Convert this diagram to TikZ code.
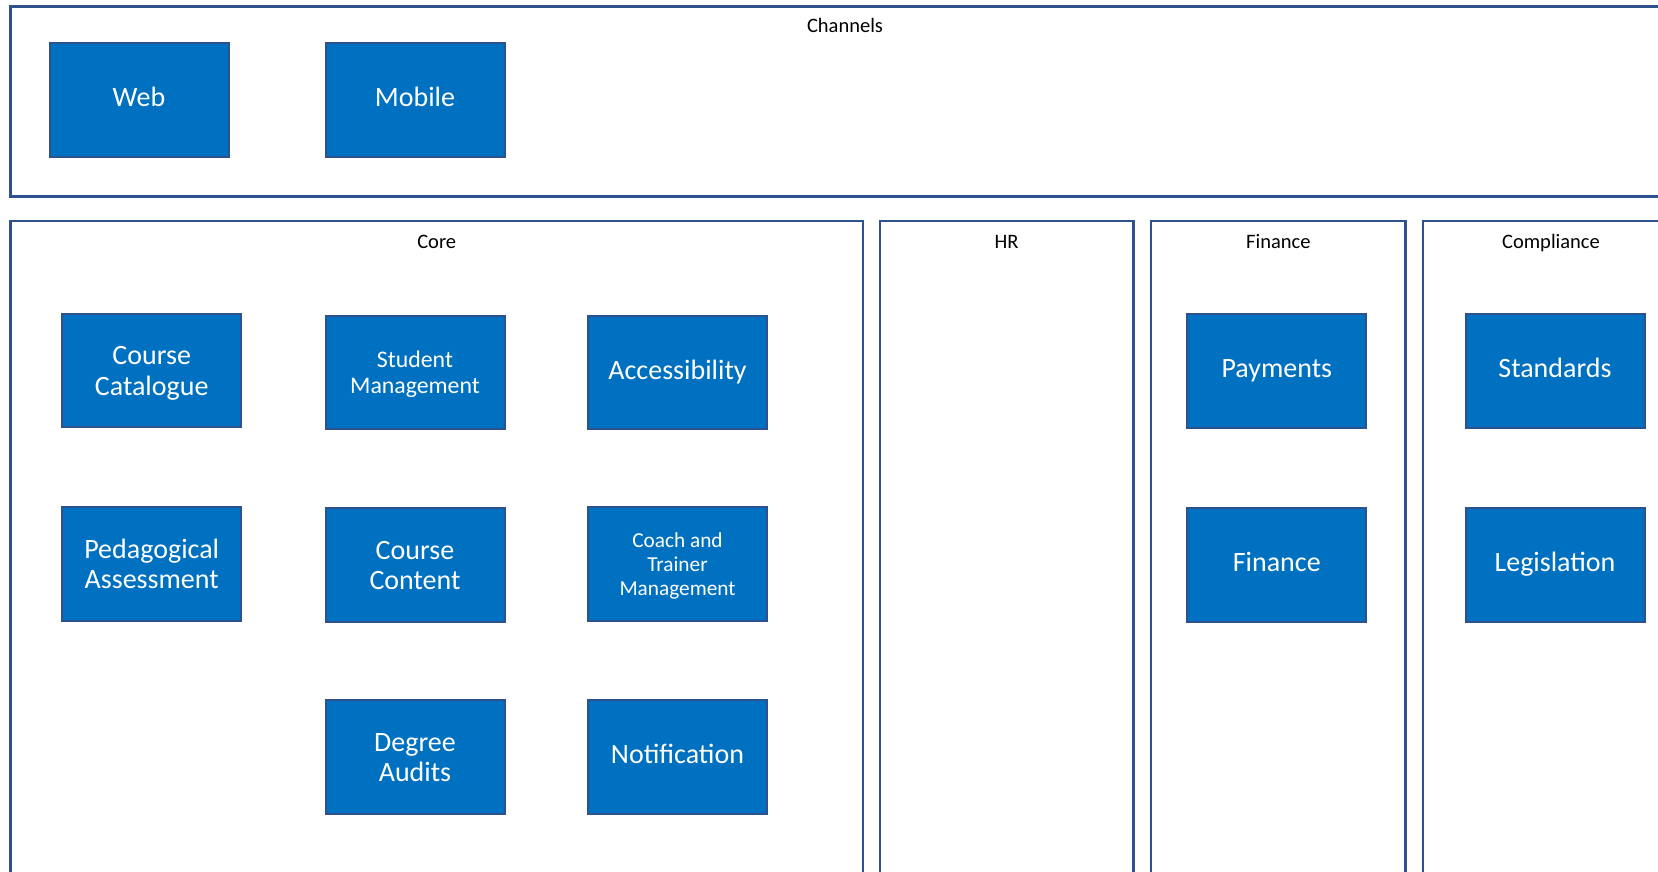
\documentclass[tikz,border=0pt]{standalone}
\usepackage{fontspec}
\setmainfont{Carlito}
\definecolor{boxblue}{HTML}{0070C0}
\definecolor{edgeblue}{HTML}{2F528F}
\newcommand{\ls}{\rule[-0.27em]{0pt}{1.02em}}
\newcommand{\lf}{\rule[-0.27em]{0pt}{1.22em}}
\tikzset{
  svc/.style={draw=edgeblue, line width=2pt, fill=boxblue, text=white,
    minimum width=179pt, minimum height=113.5pt, inner sep=0pt, align=center,
    font=\fontsize{28}{30.7}\selectfont},
  container/.style={draw=edgeblue, line width=2.6pt},
  grouplabel/.style={text=black, inner sep=0pt, font=\fontsize{20.5}{24}\selectfont}
}
\begin{document}
\begin{tikzpicture}[x=1pt,y=-1pt]
\useasboundingbox (0,0) rectangle (1658,871);
\clip (0,0) rectangle (1658,871);
% containers
\draw[container] (10.6,6.3) rectangle (1679,196.5);
\draw[container] (10.6,221) rectangle (862.8,900);
\draw[container] (879.8,221) rectangle (1133.5,900);
\draw[container] (1151,221) rectangle (1405.3,900);
\draw[container] (1423,221) rectangle (1679,900);
% labels
\node[grouplabel] (lchan) at (845,27.5) {\ls Channels};
\node[grouplabel] (lcore) at (436.7,243.5) {\ls Core};
\node[grouplabel] (lhr) at (1006.6,243.5) {\ls HR};
\node[grouplabel] (lfin) at (1278.4,243.5) {\ls Finance};
\node[grouplabel] (lcomp) at (1551,243.5) {\ls Compliance};
% services
\node[svc] (web) at (139,100) {\ls Web};
\node[svc] (mobile) at (415,100) {\ls Mobile};
\node[svc] (catalogue) at (151.7,370.7) {\lf Course\\\ls Catalogue};
\node[svc, font=\fontsize{23.8}{25.7}\selectfont] (student) at (415,372.7) {\lf Student\\\ls Management};
\node[svc] (access) at (677.5,372.7) {\ls Accessibility};
\node[svc] (peda) at (151.7,564) {\lf Pedagogical\\\ls Assessment};
\node[svc] (content) at (415,565) {\lf Course\\\ls Content};
\node[svc, font=\fontsize{21.3}{24}\selectfont] (coach) at (677.5,564) {\lf Coach and\\\ls Trainer\\\ls Management};
\node[svc] (degree) at (415,757) {\lf Degree\\\ls Audits};
\node[svc] (notif) at (677.5,757) {\ls Notification};
\node[svc] (payments) at (1276.8,371) {\ls Payments};
\node[svc] (finance) at (1276.8,565) {\ls Finance};
\node[svc] (standards) at (1555,371) {\ls Standards};
\node[svc] (legis) at (1555,565) {\ls Legislation};
\end{tikzpicture}
\end{document}
